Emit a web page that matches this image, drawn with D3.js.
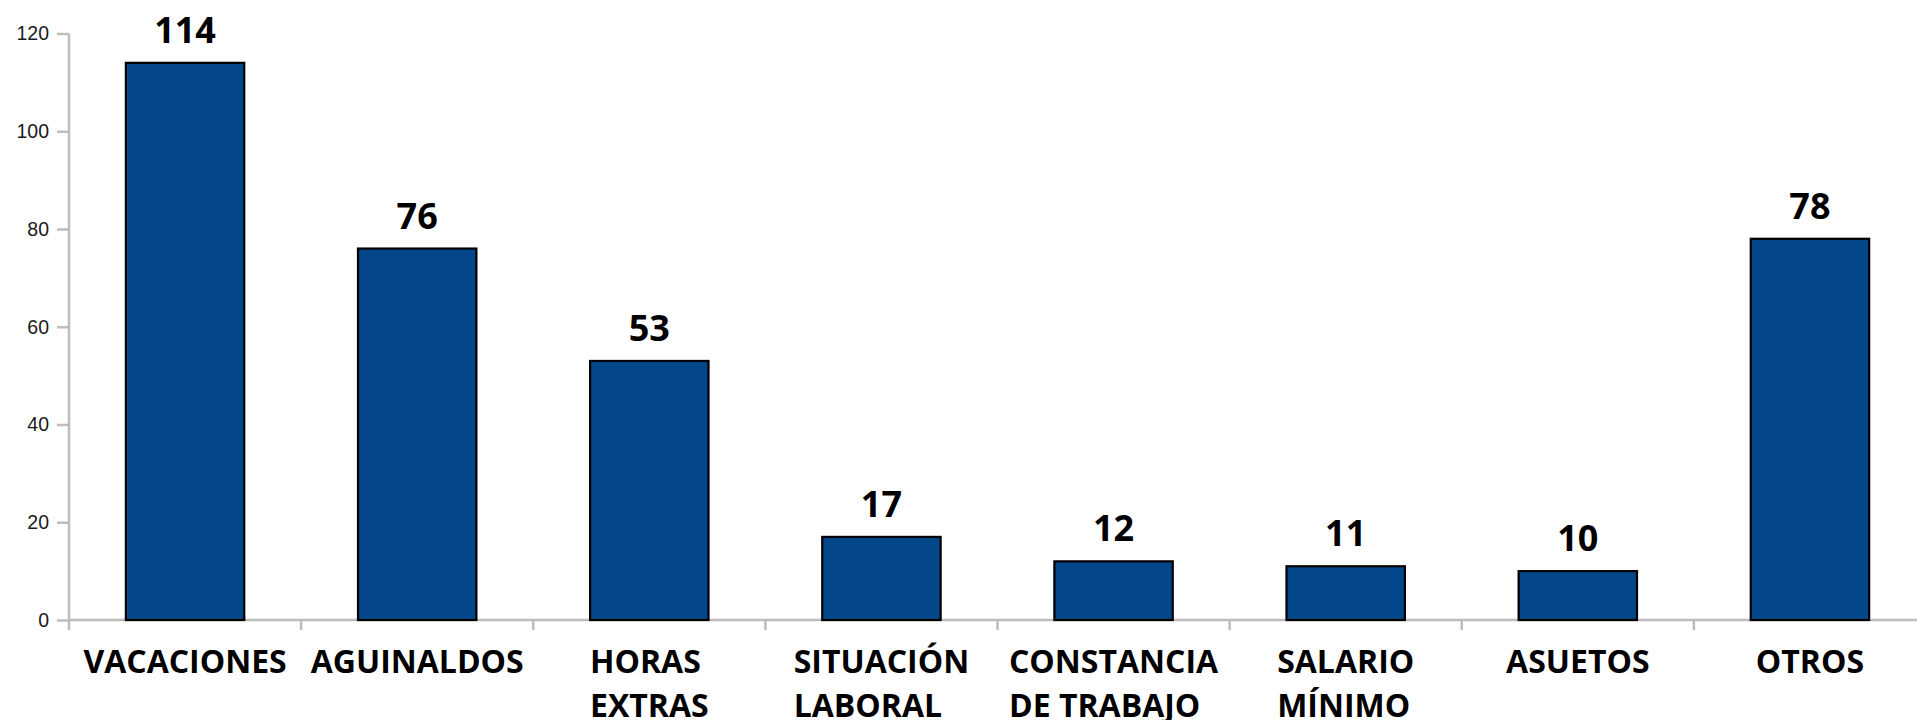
<!DOCTYPE html>
<html><head><meta charset="utf-8">
<script src="https://cdn.jsdelivr.net/npm/d3@7/dist/d3.min.js"></script>
<style>html,body{margin:0;padding:0;background:#fff;overflow:hidden}</style>
</head><body>
<svg id="chart" width="1917" height="720"></svg>
<script>
const categories = [["VACACIONES"],["AGUINALDOS"],["HORAS","EXTRAS"],["SITUACIÓN","LABORAL"],["CONSTANCIA","DE TRABAJO"],["SALARIO","MÍNIMO"],["ASUETOS"],["OTROS"]];
const values = [114, 76, 53, 17, 12, 11, 10, 78];
const yTicks = [0, 20, 40, 60, 80, 100, 120];

const svg = d3.select("#chart");
const mLeft = 69, mRight = 1926, mTop = 33.5, mBottom = 620;
const keys = categories.map((c,i)=>i);
const x = d3.scaleBand().domain(keys).range([mLeft, mRight]).paddingInner(0.49).paddingOuter(0.245);
const y = d3.scaleLinear().domain([0,120]).range([mBottom, mTop]);
const step = x.step();
const axisColor = "#bdbdbd";

// y axis
const yAxis = svg.append("g").attr("transform",`translate(${mLeft},0)`)
  .call(d3.axisLeft(y).tickValues(yTicks).tickSize(12).tickPadding(8));
yAxis.select(".domain").remove();
yAxis.selectAll(".tick line").attr("stroke",axisColor).attr("stroke-width",2.5);
yAxis.selectAll(".tick text").attr("font-family","'Liberation Sans', Arial, sans-serif").attr("font-size",19.5).attr("fill","#1a1a1a");
svg.append("line").attr("x1",mLeft).attr("x2",mLeft).attr("y1",y(120)).attr("y2",mBottom+10).attr("stroke",axisColor).attr("stroke-width",2.5);
// x axis line
svg.append("line").attr("x1",mLeft).attr("x2",mRight).attr("y1",mBottom).attr("y2",mBottom).attr("stroke",axisColor).attr("stroke-width",2.5);
// category boundary ticks
svg.append("g").selectAll("line").data(keys.slice(1)).join("line")
  .attr("x1",d=>x(d)-x.paddingOuter()*step).attr("x2",d=>x(d)-x.paddingOuter()*step)
  .attr("y1",mBottom).attr("y2",mBottom+10).attr("stroke",axisColor).attr("stroke-width",2.5);

// bars
svg.append("g").selectAll("rect").data(values).join("rect")
  .attr("x",(d,i)=>x(i)).attr("width",x.bandwidth())
  .attr("y",d=>y(d)).attr("height",d=>mBottom-y(d))
  .attr("fill","#03478a").attr("stroke","#000").attr("stroke-width",2.2);

// value labels
svg.append("g").selectAll("text").data(values).join("text")
  .attr("x",(d,i)=>x(i)+x.bandwidth()/2).attr("y",d=>y(d)-20)
  .attr("text-anchor","middle").attr("font-family","'Open Sans', sans-serif")
  .attr("font-weight","bold").attr("font-size",36).attr("fill","#000").text(d=>d);

// category labels
const lab = svg.append("g");
categories.forEach((lines,i)=>{
  const cx = x(i)+x.bandwidth()/2;
  const g = lab.append("g");
  const ts = lines.map((l,j)=>g.append("text").attr("y",673+j*44)
     .attr("font-family","'Open Sans', sans-serif").attr("font-weight","bold")
     .attr("font-size",32).attr("fill","#000").text(l));
  const maxW = d3.max(ts,t=>t.node().getComputedTextLength());
  ts.forEach(t=>t.attr("x",cx-maxW/2));
});
</script>
</body></html>
